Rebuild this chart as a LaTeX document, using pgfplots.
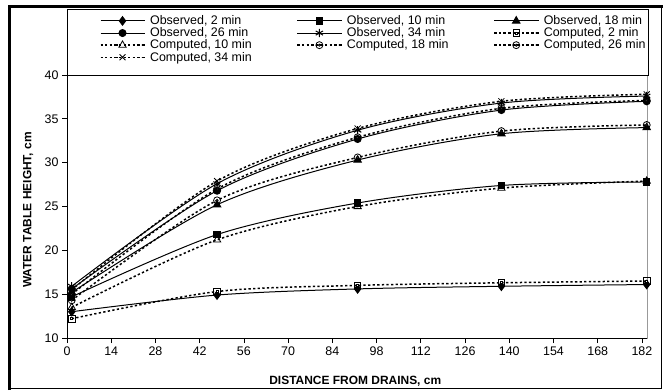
\documentclass[border=0pt]{standalone}
\usepackage{fontspec}
\setmainfont{Liberation Sans}
\usepackage{pgfplots}
\pgfplotsset{compat=1.18}
\pgfdeclareplotmark{odot}{%
  \pgfpathcircle{\pgfpointorigin}{\pgfplotmarksize}\pgfusepathqstroke
  \pgfpathcircle{\pgfpointorigin}{0.3\pgfplotmarksize}\pgfusepathqfillstroke}
\pgfdeclareplotmark{sqdot}{%
  \pgfpathrectangle{\pgfpoint{-\pgfplotmarksize}{-\pgfplotmarksize}}{\pgfpoint{2\pgfplotmarksize}{2\pgfplotmarksize}}\pgfusepathqstroke
  \pgfpathrectangle{\pgfpoint{-0.3\pgfplotmarksize}{-0.3\pgfplotmarksize}}{\pgfpoint{0.6\pgfplotmarksize}{0.6\pgfplotmarksize}}\pgfusepathqfillstroke}
\pgfplotsset{
  obs/.style={black, line width=1bp, smooth, mark options={solid, fill=black}},
  comp/.style={black, line width=1.5bp, smooth, dash pattern=on 2.3bp off 2.3bp, mark options={solid, line width=0.8bp, fill=white}},
}
\begin{document}
\begin{tikzpicture}[x=1bp,y=1bp]
\useasboundingbox (0,0) rectangle (664,391);
\draw[line width=1bp] (9.5,2.5) rectangle (661,384.5);
\draw[line width=3bp] (9.5,1) -- (9.5,384.5) -- (663,384.5);
\begin{axis}[
  at={(67bp,53bp)}, anchor=south west, scale only axis,
  width=580bp, height=263bp,
  xmin=0, xmax=183.6, ymin=10, ymax=40,
  xtick={0,14,...,182}, ytick={10,15,...,40},
  tick align=outside, xtick pos=left, ytick pos=left,
  major tick length=5bp, tick style={black, line width=0.8bp},
  axis line style={draw=gray!80, line width=1bp},
  clip=false,
  tick label style={font=\fontsize{12.5}{14}\selectfont},
  /pgf/number format/assume math mode=true,
  xlabel={DISTANCE FROM DRAINS, cm},
  ylabel={WATER TABLE HEIGHT, cm},
  label style={font=\bfseries\fontsize{12}{14}\selectfont},
  xlabel style={at={(axis description cs:0.497,-0.1635)}, anchor=center},
  ylabel style={at={(axis description cs:-0.0672,0.487)}, anchor=center, rotate=0},
  legend columns=3,
  legend cell align=left,
  legend style={draw=none, fill=none, at={(axis description cs:0.051,1.237)}, anchor=north west,
    font=\fontsize{12.5}{14}\selectfont, nodes={inner sep=0.8bp},
    /tikz/every odd column/.append style={column sep=4bp},
    /tikz/every even column/.append style={column sep=44bp}},
  legend image code/.code={\draw[mark repeat=2,mark phase=2] plot coordinates {(0bp,0bp) (22bp,0bp) (44bp,0bp)};},
]
\addplot[obs, mark=diamond*, mark size=4.2bp] coordinates {(1.5,13.0) (47.5,14.9) (92,15.6) (137.5,15.9) (183.5,16.1)};
\addlegendentry{Observed, 2 min}
\addplot[obs, mark=square*, mark size=3.2bp] coordinates {(1.5,14.7) (47.5,21.8) (92,25.4) (137.5,27.4) (183.5,27.8)};
\addlegendentry{Observed, 10 min}
\addplot[obs, mark=triangle*, mark size=4.2bp] coordinates {(1.5,15.2) (47.5,25.2) (92,30.3) (137.5,33.3) (183.5,34.0)};
\addlegendentry{Observed, 18 min}
\addplot[obs, mark=*, mark size=3.5bp] coordinates {(1.5,15.6) (47.5,26.8) (92,32.7) (137.5,36.0) (183.5,37.0)};
\addlegendentry{Observed, 26 min}
\addplot[obs, mark=asterisk, mark size=4.2bp, mark options={line width=1bp}] coordinates {(1.5,15.9) (47.5,27.6) (92,33.7) (137.5,36.8) (183.5,37.6)};
\addlegendentry{Observed, 34 min}
\addplot[comp, mark=sqdot, mark size=3.2bp] coordinates {(1.5,12.2) (47.5,15.3) (92,16.0) (137.5,16.3) (183.5,16.5)};
\addlegendentry{Computed, 2 min}
\addplot[comp, mark=triangle, mark size=4.2bp] coordinates {(1.5,13.5) (47.5,21.2) (92,25.0) (137.5,27.1) (183.5,27.9)};
\addlegendentry{Computed, 10 min}
\addplot[comp, mark=odot, mark size=3.5bp] coordinates {(1.5,14.3) (47.5,25.7) (92,30.6) (137.5,33.6) (183.5,34.3)};
\addlegendentry{Computed, 18 min}
\addplot[comp, mark=odot, mark size=3.5bp] coordinates {(1.5,15.0) (47.5,27.0) (92,32.9) (137.5,36.2) (183.5,37.1)};
\addlegendentry{Computed, 26 min}
\addplot[comp, mark=x, mark size=4.2bp] coordinates {(1.5,15.5) (47.5,27.9) (92,33.9) (137.5,37.0) (183.5,37.8)};
\addlegendentry{Computed, 34 min}
\draw[black, line width=1bp] (rel axis cs:0,1) -- (rel axis cs:0,0) -- (rel axis cs:1,0);
\draw[black, line width=1bp] (rel axis cs:0,1) -- (rel axis cs:1,1);
\end{axis}
\draw[black, line width=1bp] (67,316) rectangle (648,381);
\end{tikzpicture}
\end{document}
